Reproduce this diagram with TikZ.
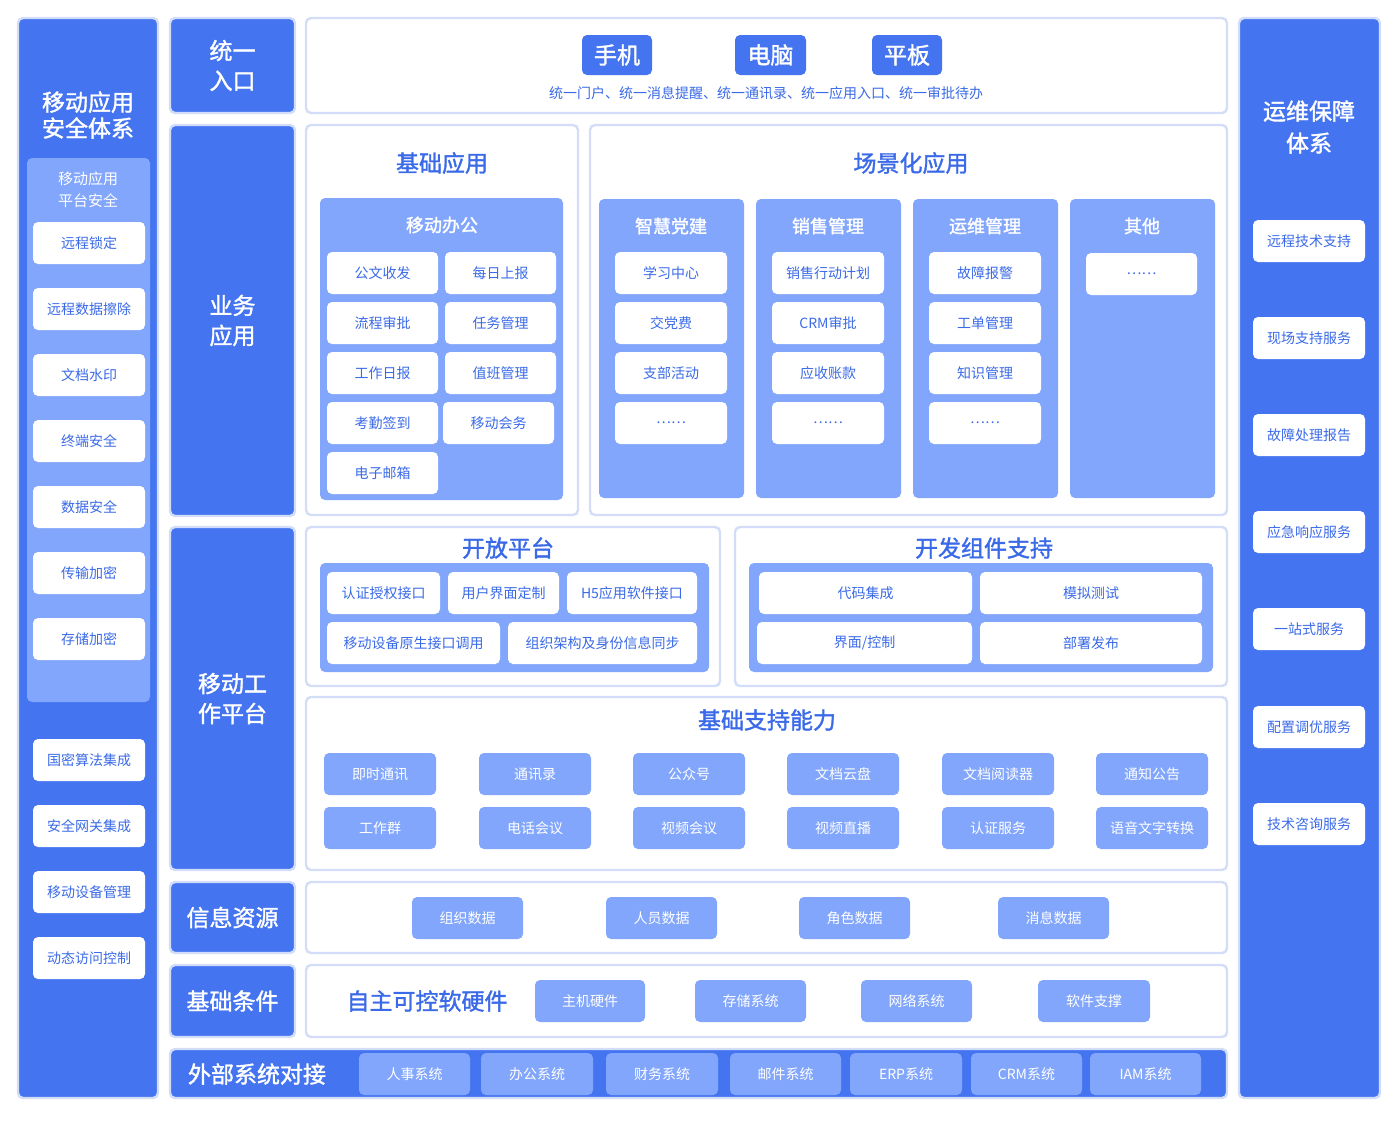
\documentclass[tikz,border=0pt]{standalone}
\usepackage{fontspec}
\setmainfont{Noto Sans CJK SC}[BoldFont={Noto Sans CJK SC},BoldFeatures={FakeBold=1.5}]
\definecolor{dk}{HTML}{4474F0}
\definecolor{lt}{HTML}{82A6FC}
\definecolor{tx}{HTML}{3A6AE8}
\definecolor{gl}{HTML}{D3DDF8}
\newcommand\R[7]{\node[#6, minimum width={(#4-#2)*0.5pt}, minimum height={(#5-#3)*0.5pt}] (#1) at ({(#2+#4)/2},{(#3+#5)/2}) {#7};}
\tikzset{
 base/.style={inner sep=0pt, rounded corners=2.5pt, align=center},
 dark/.style={base, fill=dk, draw=gl, line width=1.2pt, text=white, font=\fontsize{11.5}{15}\selectfont\bfseries},
 panel/.style={base, fill=white, draw=gl, line width=1.2pt},
 lpan/.style={base, fill=lt, draw=none},
 wb/.style={base, fill=white, draw=none, text=tx, font=\fontsize{7}{8}\selectfont},
 lb/.style={base, fill=lt, draw=none, text=white, font=\fontsize{7}{8}\selectfont},
 ttl/.style={text=tx, font=\fontsize{11.5}{14}\selectfont\bfseries},
 wt/.style={text=white, font=\fontsize{9}{11}\selectfont\bfseries},
 btn/.style={base, fill=dk, text=white, font=\fontsize{11.5}{14}\selectfont\bfseries},
}
\begin{document}
\begin{tikzpicture}[x=0.5pt,y=-0.5pt]
\useasboundingbox (0,0) rectangle (1400,1130);
% left column
\R{L}{18}{18}{158}{1098}{dark}{}
\node[text=white,font=\fontsize{11.5}{13}\selectfont\bfseries,align=center] (Lt) at (88,115) {移动应用\\安全体系};
\R{Lp}{27}{158}{150}{702}{lpan}{}
\node[text=white,font=\fontsize{7.5}{11}\selectfont,align=center] (Lpt) at (88,190) {移动应用\\平台安全};
\R{l1}{33}{222}{145}{264}{wb}{远程锁定}
\R{l2}{33}{288}{145}{330}{wb}{远程数据擦除}
\R{l3}{33}{354}{145}{396}{wb}{文档水印}
\R{l4}{33}{420}{145}{462}{wb}{终端安全}
\R{l5}{33}{486}{145}{528}{wb}{数据安全}
\R{l6}{33}{552}{145}{594}{wb}{传输加密}
\R{l7}{33}{618}{145}{660}{wb}{存储加密}
\R{l8}{33}{739}{145}{781}{wb}{国密算法集成}
\R{l9}{33}{805}{145}{847}{wb}{安全网关集成}
\R{l10}{33}{871}{145}{913}{wb}{移动设备管理}
\R{l11}{33}{937}{145}{979}{wb}{动态访问控制}
% second column
\R{c1}{170}{18}{295}{113}{dark}{统一\\入口}
\R{c2}{170}{125}{295}{516}{dark}{业务\\应用}
\R{c3}{170}{527}{295}{870}{dark}{移动工\\作平台}
\R{c4}{170}{882}{295}{953}{dark}{信息资源}
\R{c5}{170}{965}{295}{1037}{dark}{基础条件}
% entry
\R{E}{306}{18}{1227}{113}{panel}{}
\R{b1}{582}{35}{652}{75}{btn}{手机}
\R{b2}{735}{35}{806}{75}{btn}{电脑}
\R{b3}{872}{35}{942}{75}{btn}{平板}
\node[text=tx,font=\fontsize{7}{8}\selectfont] (Et) at (766,93) {统一门户、统一消息提醒、统一通讯录、统一应用入口、统一审批待办};
% base apps
\R{BA}{306}{125}{578}{515}{panel}{}
\node[ttl] (BAt) at (442,163) {基础应用};
\R{MO}{320}{198}{563}{500}{lpan}{}
\node[wt] (MOt) at (442,225) {移动办公};
\R{m1}{327}{252}{438}{294}{wb}{公文收发}
\R{m2}{445}{252}{556}{294}{wb}{每日上报}
\R{m3}{327}{302}{438}{344}{wb}{流程审批}
\R{m4}{445}{302}{556}{344}{wb}{任务管理}
\R{m5}{327}{352}{438}{394}{wb}{工作日报}
\R{m6}{445}{352}{556}{394}{wb}{值班管理}
\R{m7}{327}{402}{438}{444}{wb}{考勤签到}
\R{m8}{443}{402}{554}{444}{wb}{移动会务}
\R{m9}{327}{452}{438}{494}{wb}{电子邮箱}
% scene apps
\R{SA}{590}{125}{1227}{515}{panel}{}
\node[ttl] (SAt) at (911,163) {场景化应用};
\R{s1}{599}{199}{744}{498}{lpan}{}
\R{s2}{756}{199}{901}{498}{lpan}{}
\R{s3}{913}{199}{1058}{498}{lpan}{}
\R{s4}{1070}{199}{1215}{498}{lpan}{}
\node[wt] (s1t) at (671,226) {智慧党建};
\node[wt] (s2t) at (828,226) {销售管理};
\node[wt] (s3t) at (985,226) {运维管理};
\node[wt] (s4t) at (1142,226) {其他};
\R{a1}{615}{252}{727}{294}{wb}{学习中心}
\R{a2}{615}{302}{727}{344}{wb}{交党费}
\R{a3}{615}{352}{727}{394}{wb}{支部活动}
\R{a4}{615}{402}{727}{444}{wb}{……}
\R{d1}{772}{252}{884}{294}{wb}{销售行动计划}
\R{d2}{772}{302}{884}{344}{wb}{CRM审批}
\R{d3}{772}{352}{884}{394}{wb}{应收账款}
\R{d4}{772}{402}{884}{444}{wb}{……}
\R{o1}{929}{252}{1041}{294}{wb}{故障报警}
\R{o2}{929}{302}{1041}{344}{wb}{工单管理}
\R{o3}{929}{352}{1041}{394}{wb}{知识管理}
\R{o4}{929}{402}{1041}{444}{wb}{……}
\R{q1}{1086}{253}{1197}{295}{wb}{……}
% open platform
\R{OP}{306}{527}{720}{686}{panel}{}
\node[ttl] (OPt) at (508,548) {开放平台};
\R{OPi}{320}{563}{709}{672}{lpan}{}
\R{p1}{327}{572}{440}{614}{wb}{认证授权接口}
\R{p2}{448}{572}{559}{614}{wb}{用户界面定制}
\R{p3}{567}{572}{697}{614}{wb}{H5应用软件接口}
\R{p4}{327}{622}{500}{664}{wb}{移动设备原生接口调用}
\R{p5}{508}{622}{697}{664}{wb}{组织架构及身份信息同步}
\R{DC}{735}{527}{1227}{686}{panel}{}
\node[ttl] (DCt) at (984,548) {开发组件支持};
\R{DCi}{749}{563}{1213}{672}{lpan}{}
\R{g1}{759}{572}{972}{614}{wb}{代码集成}
\R{g2}{980}{572}{1202}{614}{wb}{模拟测试}
\R{g3}{757}{622}{972}{664}{wb}{界面/控制}
\R{g4}{980}{622}{1202}{664}{wb}{部署发布}
% basic support
\R{BS}{306}{697}{1227}{870}{panel}{}
\node[ttl] (BSt) at (767,720) {基础支持能力};
\R{k1}{324}{753}{436}{795}{lb}{即时通讯}
\R{k2}{479}{753}{591}{795}{lb}{通讯录}
\R{k3}{633}{753}{745}{795}{lb}{公众号}
\R{k4}{787}{753}{899}{795}{lb}{文档云盘}
\R{k5}{942}{753}{1054}{795}{lb}{文档阅读器}
\R{k6}{1096}{753}{1208}{795}{lb}{通知公告}
\R{k7}{324}{807}{436}{849}{lb}{工作群}
\R{k8}{479}{807}{591}{849}{lb}{电话会议}
\R{k9}{633}{807}{745}{849}{lb}{视频会议}
\R{k10}{787}{807}{899}{849}{lb}{视频直播}
\R{k11}{942}{807}{1054}{849}{lb}{认证服务}
\R{k12}{1096}{807}{1208}{849}{lb}{语音文字转换}
% info resources
\R{IR}{306}{882}{1227}{953}{panel}{}
\R{i1}{412}{897}{523}{939}{lb}{组织数据}
\R{i2}{606}{897}{717}{939}{lb}{人员数据}
\R{i3}{799}{897}{910}{939}{lb}{角色数据}
\R{i4}{998}{897}{1109}{939}{lb}{消息数据}
% base conditions
\R{BC}{306}{965}{1227}{1037}{panel}{}
\node[ttl] (BCt) at (427,1001) {自主可控软硬件};
\R{h1}{535}{980}{645}{1022}{lb}{主机硬件}
\R{h2}{695}{980}{806}{1022}{lb}{存储系统}
\R{h3}{861}{980}{972}{1022}{lb}{网络系统}
\R{h4}{1038}{980}{1150}{1022}{lb}{软件支撑}
% external
\R{EX}{170}{1049}{1227}{1098}{dark}{}
\node[text=white,font=\fontsize{11.5}{14}\selectfont\bfseries] (EXt) at (257,1074) {外部系统对接};
\R{e1}{359}{1053}{470}{1095}{lb}{人事系统}
\R{e2}{481}{1053}{593}{1095}{lb}{办公系统}
\R{e3}{606}{1053}{718}{1095}{lb}{财务系统}
\R{e4}{730}{1053}{841}{1095}{lb}{邮件系统}
\R{e5}{850}{1053}{962}{1095}{lb}{ERP系统}
\R{e6}{971}{1053}{1082}{1095}{lb}{CRM系统}
\R{e7}{1090}{1053}{1201}{1095}{lb}{IAM系统}
% right column
\R{RC}{1239}{18}{1380}{1098}{dark}{}
\node[text=white,font=\fontsize{11.5}{16}\selectfont\bfseries,align=center] (RCt) at (1309,127) {运维保障\\体系};
\R{r1}{1253}{220}{1365}{262}{wb}{远程技术支持}
\R{r2}{1253}{317}{1365}{359}{wb}{现场支持服务}
\R{r3}{1253}{414}{1365}{456}{wb}{故障处理报告}
\R{r4}{1253}{511}{1365}{553}{wb}{应急响应服务}
\R{r5}{1253}{608}{1365}{650}{wb}{一站式服务}
\R{r6}{1253}{706}{1365}{748}{wb}{配置调优服务}
\R{r7}{1253}{803}{1365}{845}{wb}{技术咨询服务}
\end{tikzpicture}
\end{document}
